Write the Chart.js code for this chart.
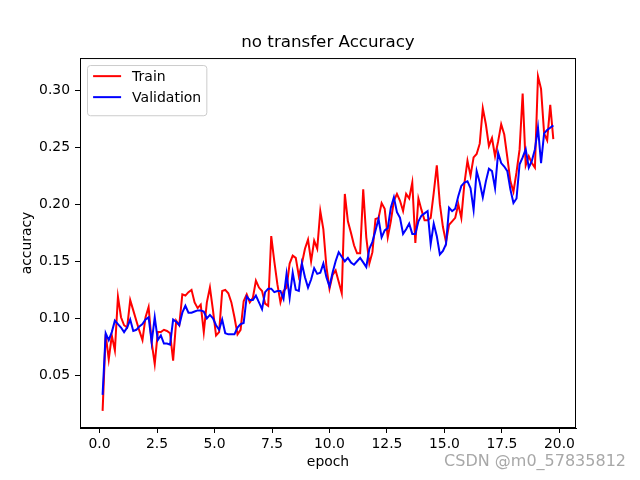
<!DOCTYPE html>
<html>
<head>
<meta charset="utf-8">
<title>no transfer Accuracy</title>
<script src="https://cdn.jsdelivr.net/npm/chart.js@4.4.1/dist/chart.umd.min.js"></script>
<style>
  html, body { margin: 0; padding: 0; background: #fff; }
</style>
</head>
<body>
<canvas id="acc" width="640" height="480"></canvas>
<script>
const trainAcc = [
  0.019,0.086,0.064,0.085,0.072,0.119,0.101,0.094,0.092,0.116,
  0.107,0.098,0.089,0.081,0.101,0.110,0.079,0.060,0.088,0.088,
  0.090,0.089,0.087,0.063,0.098,0.094,0.121,0.120,0.123,0.125,
  0.114,0.109,0.112,0.088,0.114,0.127,0.107,0.085,0.088,0.124,
  0.125,0.122,0.114,0.101,0.086,0.090,0.115,0.121,0.114,0.118,
  0.133,0.127,0.124,0.113,0.111,0.172,0.150,0.130,0.114,0.124,
  0.127,0.148,0.155,0.153,0.137,0.148,0.161,0.169,0.150,0.168,
  0.161,0.194,0.178,0.145,0.126,0.138,0.142,0.132,0.122,0.209,
  0.185,0.175,0.164,0.157,0.157,0.213,0.171,0.148,0.158,0.187,
  0.188,0.201,0.196,0.171,0.185,0.203,0.209,0.203,0.194,0.209,
  0.205,0.219,0.166,0.205,0.195,0.186,0.186,0.188,0.210,0.234,
  0.200,0.180,0.167,0.182,0.185,0.188,0.200,0.188,0.218,0.238,
  0.225,0.241,0.244,0.253,0.284,0.270,0.251,0.258,0.242,0.255,
  0.270,0.261,0.241,0.220,0.211,0.228,0.248,0.297,0.234,0.242,
  0.236,0.232,0.312,0.301,0.262,0.256,0.287,0.257
];
const valAcc = [
  0.033,0.087,0.081,0.088,0.098,0.095,0.092,0.088,0.092,0.099,
  0.089,0.090,0.093,0.095,0.099,0.101,0.079,0.101,0.081,0.085,
  0.078,0.078,0.077,0.099,0.097,0.094,0.105,0.111,0.105,0.105,
  0.106,0.107,0.107,0.106,0.100,0.103,0.100,0.094,0.090,0.099,
  0.087,0.086,0.086,0.086,0.092,0.095,0.096,0.119,0.116,0.116,
  0.120,0.114,0.108,0.123,0.126,0.126,0.123,0.124,0.124,0.117,
  0.139,0.118,0.140,0.125,0.124,0.148,0.136,0.127,0.134,0.144,
  0.139,0.140,0.148,0.136,0.128,0.140,0.150,0.158,0.154,0.150,
  0.153,0.149,0.147,0.150,0.153,0.149,0.145,0.161,0.167,0.177,
  0.187,0.171,0.177,0.179,0.197,0.206,0.193,0.188,0.174,0.178,
  0.183,0.174,0.174,0.185,0.190,0.192,0.194,0.165,0.183,0.172,
  0.156,0.159,0.165,0.197,0.194,0.196,0.207,0.216,0.219,0.220,
  0.214,0.195,0.229,0.219,0.206,0.220,0.231,0.229,0.214,0.245,
  0.236,0.233,0.229,0.213,0.201,0.205,0.235,0.241,0.248,0.232,
  0.238,0.248,0.267,0.236,0.262,0.265,0.267,0.269
];
const epochStep = 20 / 150;   // points are logged every 1/7.5 epoch
const epochs = trainAcc.map((_, i) => (i + 1) * epochStep);

const xTickStep = 2.5;
const yTickStep = 0.05;

const FONT = 'DejaVu Sans';

// matplotlib look: full box around axes, legend inside, watermark
const extras = {
  id: 'extras',
  afterDatasetsDraw(chart) {
    const ctx = chart.ctx;
    const ca = chart.chartArea;
    ctx.save();
    ctx.strokeStyle = '#000';
    ctx.lineWidth = 1;
    ctx.strokeRect(ca.left + 0.5, ca.top + 0.5, ca.right - ca.left - 1, ca.bottom - ca.top - 1);

    // legend box
    const ds = chart.data.datasets;
    ctx.font = '14px "' + FONT + '"';
    let tw = 0;
    ds.forEach(d => { tw = Math.max(tw, ctx.measureText(d.label).width); });
    const pad = 5.6, handle = 28, gap = 11, rowH = 21;
    const bx = ca.left + 7.5, by = ca.top + 7.5;
    const bw = pad + handle + gap + tw + pad;
    const bh = pad * 2 + rowH * ds.length - 7 + 4;
    ctx.beginPath();
    ctx.roundRect(bx, by, bw, bh, 3);
    ctx.fillStyle = 'rgba(255,255,255,0.8)';
    ctx.fill();
    ctx.strokeStyle = '#cccccc';
    ctx.stroke();
    ds.forEach((d, i) => {
      const y = by + pad + 5 + i * rowH;
      ctx.beginPath();
      ctx.moveTo(bx + pad, y);
      ctx.lineTo(bx + pad + handle, y);
      ctx.strokeStyle = d.borderColor;
      ctx.lineWidth = 2;
      ctx.stroke();
      ctx.fillStyle = '#000';
      ctx.textBaseline = 'middle';
      ctx.textAlign = 'left';
      ctx.fillText(d.label, bx + pad + handle + gap, y + 1);
    });

    // CSDN watermark
    ctx.font = '16px "' + FONT + '"';
    ctx.textAlign = 'right';
    ctx.textBaseline = 'middle';
    ctx.fillStyle = '#a8a8a8';
    ctx.fillText('CSDN @m0_57835812', 626, 462);
    ctx.restore();
  }
};

new Chart(document.getElementById('acc'), {
  type: 'line',
  data: {
    datasets: [{
      label: 'Train',
      data: epochs.map((e, i) => ({ x: e, y: trainAcc[i] })),
      borderColor: '#ff0000',
      backgroundColor: '#ff0000',
      borderWidth: 2,
      pointRadius: 0,
      order: 1
    }, {
      label: 'Validation',
      data: epochs.map((e, i) => ({ x: e, y: valAcc[i] })),
      borderColor: '#0000ff',
      backgroundColor: '#0000ff',
      borderWidth: 2,
      pointRadius: 0,
      order: 0
    }]
  },
  options: {
    responsive: false,
    animation: false,
    devicePixelRatio: 1,
    layout: { padding: { left: 0, right: 64, top: 0, bottom: 0 } },
    plugins: {
      legend: { display: false },
      tooltip: { enabled: false },
      title: {
        display: true,
        fullSize: false,
        text: 'no transfer Accuracy',
        color: '#000',
        font: { family: FONT, size: 16.7, weight: 'normal' },
        padding: { top: 33, bottom: 5 }
      }
    },
    scales: {
      x: {
        type: 'linear',
        min: -0.85,
        max: 20.72,
        afterFit(s) { s.height = 52; },
        border: { display: true, color: '#000', width: 1 },
        grid: { display: true, drawOnChartArea: false, color: '#000', tickLength: 5 },
        ticks: {
          stepSize: xTickStep,
          includeBounds: false,
          autoSkip: false,
          maxRotation: 0,
          padding: 3,
          color: '#000',
          font: { family: FONT, size: 13.9 },
          callback: v => v.toFixed(1)
        },
        title: {
          display: true,
          text: 'epoch',
          color: '#000',
          font: { family: FONT, size: 13.9 },
          padding: { top: 0, bottom: 9 }
        }
      },
      y: {
        type: 'linear',
        min: 0.004,
        max: 0.328,
        afterFit(s) { s.width = 80; },
        border: { display: true, color: '#000', width: 1 },
        grid: { display: true, drawOnChartArea: false, color: '#000', tickLength: 5 },
        ticks: {
          stepSize: yTickStep,
          includeBounds: false,
          autoSkip: false,
          padding: 5,
          color: '#000',
          font: { family: FONT, size: 13.9 },
          callback: v => v.toFixed(2)
        },
        title: {
          display: true,
          text: 'accuracy',
          color: '#000',
          font: { family: FONT, size: 13.9 },
          padding: { top: 19, bottom: 0 }
        }
      }
    }
  },
  plugins: [extras]
});
</script>
</body>
</html>
